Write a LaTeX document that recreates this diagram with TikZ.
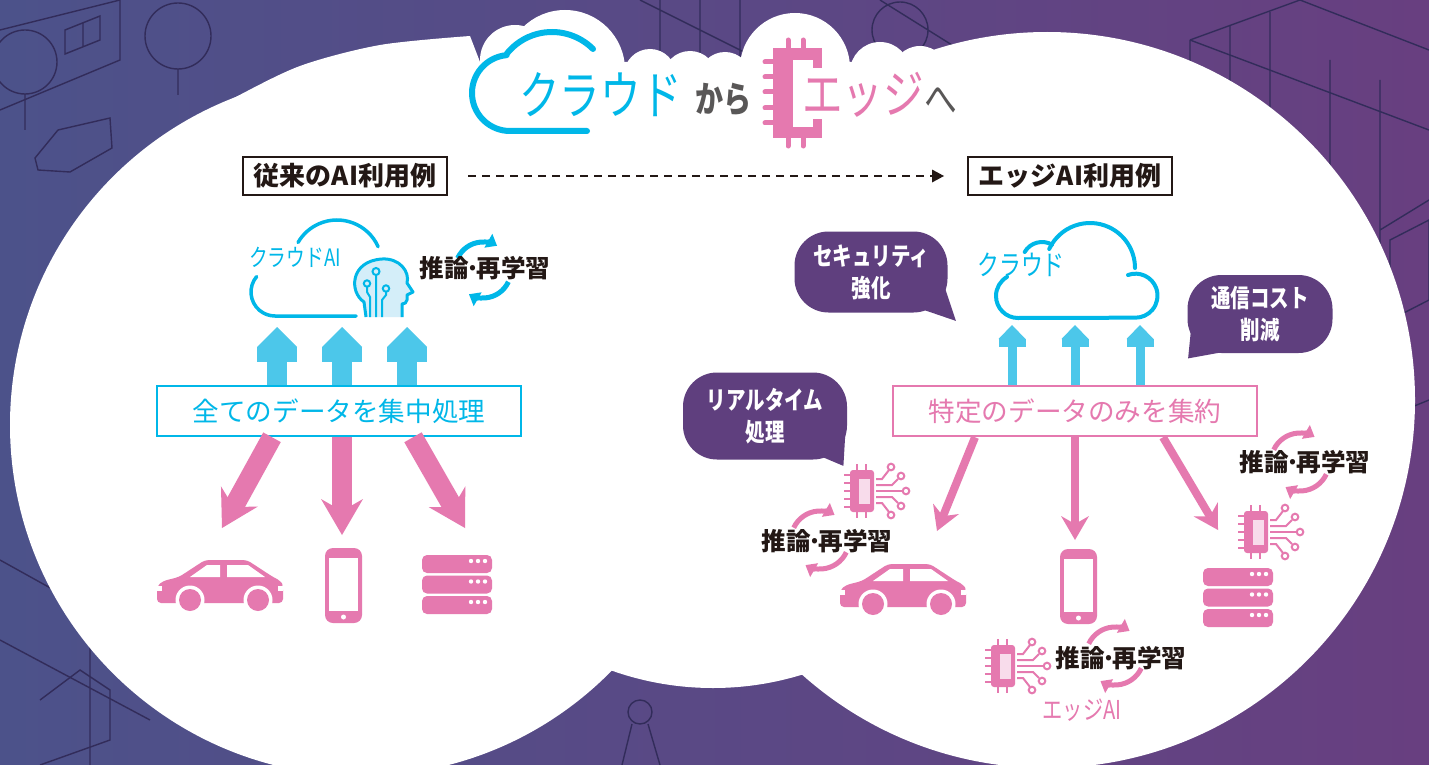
\documentclass[tikz,border=0pt]{standalone}
\usepackage{fontspec}
\setmainfont{Noto Sans CJK JP}
\newfontfamily\techfont[FakeStretch=0.78]{Noto Sans CJK JP}
\usetikzlibrary{arrows.meta,positioning}

\definecolor{cloudcyan}{RGB}{0,183,232}
\definecolor{flowcyan}{RGB}{76,199,234}
\definecolor{headfill}{RGB}{212,238,249}
\definecolor{edgepink}{RGB}{229,121,175}
\definecolor{chiplight}{RGB}{248,220,235}
\definecolor{bubblepurple}{RGB}{95,63,126}
\definecolor{inkblack}{RGB}{35,24,21}
\definecolor{inkgray}{RGB}{89,87,87}
\definecolor{bgleft}{RGB}{76,82,138}
\definecolor{bgright}{RGB}{104,63,128}
\definecolor{cityline}{RGB}{50,44,90}

% narrow middle dot between two words
\newcommand{\nakadot}{\makebox[0.32em][c]{·}}

\tikzset{
  % device icons, drawn in pixel units of the picture
  car/.pic={
    \fill[edgepink, rounded corners=2] (0,-7) -- (0,-24) -- (6,-29) -- (22,-33)
      -- (48,-50) -- (90,-50) -- (116,-33) -- (124,-29) -- (126,-24) -- (126,-7) -- cycle;
    \fill[white] (33,-33) -- (63,-33) -- (63,-45) -- (50,-45) -- cycle;
    \fill[white] (70,-33) -- (108,-33) -- (91,-45) -- (70,-45) -- cycle;
    \foreach \wx in {33,101} {
      \fill[white] (\wx,-10) circle[radius=14.5];
      \fill[edgepink] (\wx,-10) circle[radius=11];
    }
    \fill[white] (121,-24) rectangle (126,-19);
    \fill[white] (0,-24) rectangle (5,-19);
  },
  phone/.pic={
    \fill[edgepink, rounded corners=4] (0,0) rectangle (37,75);
    \fill[white] (4,10) rectangle (33,63);
    \fill[white] (18.5,69) circle[radius=2.5];
  },
  server/.pic={
    \foreach \k in {0,1,2} {
      \fill[edgepink, rounded corners=2.5] (0,20.5*\k) rectangle ++(70,18);
      \foreach \d in {49,56,63}
        \fill[white] (\d,20.5*\k+6) circle[radius=2.2];
    }
  },
  edgechip/.pic={
    \fill[edgepink, rounded corners=1.5] (-12,-21) rectangle (12,21);
    \fill[chiplight] (-3,-12) rectangle (8,13);
    \foreach \py in {-16,-8,0,8,16}
      \draw[edgepink, line width=1.3pt] (-18,\py) -- (-12,\py);
    \foreach \px in {-5,4} {
      \draw[edgepink, line width=1.3pt] (\px,-27) -- (\px,-21);
      \draw[edgepink, line width=1.3pt] (\px,21) -- (\px,27);
    }
    \begin{scope}[edgepink, line width=1pt]
      \draw (14,-12) -- (20,-12) -- (27,-21);
      \draw (29,-24) circle[radius=3.3];
      \draw (14,-6) -- (30,-6) -- (36,-12);
      \draw (39,-15) circle[radius=3.3];
      \draw (14,0) -- (40.7,0);
      \draw (44,0) circle[radius=3.3];
      \draw (14,6) -- (30,6) -- (36,12);
      \draw (39,15) circle[radius=3.3];
      \draw (14,12) -- (20,12) -- (27,21);
      \draw (29,24) circle[radius=3.3];
    \end{scope}
  }
}

\begin{document}
\begin{tikzpicture}[x=0.5pt,y=-0.5pt,
  labelbox/.style={draw=inkblack, line width=1pt, minimum width=102pt, minimum height=19pt,
    inner sep=0pt, text=inkblack, font=\fontsize{13pt}{15pt}\selectfont\bfseries},
  databox/.style={fill=white, line width=1.25pt, minimum width=182pt, minimum height=25pt,
    inner sep=0pt, font=\fontsize{13.3pt}{15pt}\selectfont},
  bubble/.style={fill=bubblepurple, rounded corners=17pt, inner sep=0pt, text=white,
    align=center, font=\fontsize{12.5pt}{16pt}\techfont\bfseries},
  infer/.style={text=inkblack, inner sep=0pt, font=\fontsize{12.3pt}{14pt}\selectfont\bfseries},
  techlabel/.style={inner sep=0pt, font=\fontsize{12pt}{14pt}\techfont},
  cycle cyan/.style={draw=cloudcyan, line width=2.5pt, -{Triangle[length=5pt,width=8pt,line width=0pt]}},
  cycle pink/.style={draw=edgepink, line width=2.5pt, -{Triangle[length=5pt,width=8pt,line width=0pt]}},
  upflow/.style={draw=flowcyan, line width=10pt,
    -{Rectangle[length=7.5pt,width=20pt,line width=0pt]Triangle[length=10pt,width=20pt,line width=0pt]}},
  upthin/.style={draw=flowcyan, line width=4.5pt,
    -{Rectangle[length=4pt,width=13.5pt,line width=0pt]Triangle[length=7pt,width=13.5pt,line width=0pt]}},
  downflow/.style={draw=edgepink, line width=10pt, -{Stealth[length=18pt,width=21pt,inset=6pt,line width=0pt]}},
  downthin/.style={draw=edgepink, line width=4pt, -{Stealth[length=12pt,width=14pt,inset=4pt,line width=0pt]}},
]

\useasboundingbox (0,0) rectangle (1429,765);
\shade[left color=bgleft, right color=bgright] (0,0) rectangle (1429,765);

% faint town drawing behind
\begin{scope}[cityline, line width=0.7pt]
  \draw (25,62) circle[radius=32] (25,94) -- (25,130);
  \draw (178,36) circle[radius=33] (178,69) -- (178,95);
  \draw (0,30) -- (120,0) (0,110) -- (120,60) -- (120,0);
  \draw (65,30) -- (100,16) -- (100,40) -- (65,54) -- cycle (83,23) -- (83,47);
  \draw (35,158) -- (58,130) -- (110,118) -- (112,148) -- (70,172) -- (38,170) -- cycle;
  \draw (1190,40) -- (1300,0) (1190,40) -- (1190,260) (1190,40) -- (1429,130);
  \draw (1230,26) -- (1230,240) (1270,12) -- (1270,220) (1300,0) -- (1429,50);
  \draw (1330,60) -- (1330,260) (1380,80) -- (1380,270) (1429,200) -- (1380,230);
  \draw (640,0) -- (760,60) (660,0) -- (660,60) (700,0) -- (700,60) (740,0) -- (740,60);
  \draw (880,0) -- (960,50) (900,30) circle[radius=28];
  \draw (0,560) -- (90,610) -- (90,765) (0,640) -- (150,720);
  \draw (40,700) -- (80,670) -- (110,690) -- (110,740) -- (40,765);
  \draw (1380,420) -- (1429,400) (1390,240) -- (1429,220) -- (1429,300) -- (1390,320) -- cycle;
  \draw (640,712) circle[radius=12] (632,724) -- (622,765) (648,724) -- (660,765);
\end{scope}

% white cloud-shaped panel
\fill[white] (361,425) circle[radius=351];
\fill[white] (1047,400) circle[radius=368];
\fill[white] (713,386) circle[radius=302];
\foreach \cx/\cy/\r in {515/60/35, 565/70/60, 650/75/26, 690/78/27, 725/78/26,
                        795/68/55, 880/72/30, 920/74/28}
  \fill[white] (\cx,\cy) circle[radius=\r];
\fill[white] plot[smooth] coordinates {(92,200) (160,138) (230,100) (300,66) (380,45) (470,36)}
  -- (480,62) -- (950,62) -- plot[smooth] coordinates {(950,58) (1000,42) (1047,33)}
  -- (1047,250) -- (92,250) -- cycle;

% title
\coordinate (titlecloud) at (552,90);
\coordinate (titlelobe) at (510,93);
\draw[cloudcyan, line width=3pt, line cap=round]
  ([shift={(-45:58)}]titlecloud) arc[start angle=-45, end angle=-141, radius=58];
\draw[cloudcyan, line width=3pt, line cap=round]
  ([shift={(-95:38)}]titlelobe) arc[start angle=-95, end angle=-270, radius=38] -- ++(77,0);
\node[anchor=west, inner sep=0pt, text=cloudcyan, font=\fontsize{26pt}{30pt}\techfont] (titlefrom) at (519,95) {クラウド};
\node[anchor=west, inner sep=0pt, text=inkgray, font=\fontsize{18pt}{20pt}\techfont\bfseries] (titlekara) at (695,100) {から};
% chip around the first letter
\fill[edgepink] (773,48) rectangle (822,138);
\fill[white] (793,60) rectangle (813,127);
\fill[white] (812,68) rectangle (823,119);
\foreach \px in {788,803} {
  \draw[edgepink, line width=2.5pt, line cap=round] (\px,40) -- (\px,48);
  \draw[edgepink, line width=2.5pt, line cap=round] (\px,138) -- (\px,146);
}
\foreach \py in {62,77,92,108,123}
  \draw[edgepink, line width=2.5pt, line cap=round] (765,\py) -- (773,\py);
\node[anchor=west, inner sep=0pt, text=edgepink, font=\fontsize{26pt}{30pt}\techfont] (titleto) at (802,95) {エッジ};
\node[anchor=west, inner sep=0pt, text=inkgray, font=\fontsize{21pt}{24pt}\techfont] (titlehe) at (924,101) {へ};

% the two cases
\node[labelbox] (oldcase) at (345,176) {従来のAI利用例};
\node[labelbox] (edgecase) at (1070,176) {エッジAI利用例};
\draw[inkblack, line width=1pt, dash pattern=on 4pt off 3pt,
  -{Triangle[length=6pt,width=6.5pt,line width=0pt]}, shorten <=10pt, shorten >=11.5pt]
  (oldcase) -- (edgecase);

% ---- cloud AI side ----
\coordinate (aicloud) at (337,265);
\coordinate (ailobe) at (275,292);
\draw[cloudcyan, line width=1.75pt, line cap=round]
  ([shift={(-24:45)}]aicloud) arc[start angle=-24, end angle=-150, radius=45];
\draw[cloudcyan, line width=1.75pt, line cap=round]
  ([shift={(-140:24)}]ailobe) arc[start angle=-140, end angle=-270, radius=24] -- (356,316);
\node[techlabel, text=cloudcyan] (cloudai) at (295,257) {クラウドAI};
% head with circuit
\filldraw[fill=headfill, draw=cloudcyan, line width=1.5pt, line join=round]
  (366,317) -- (364,302) .. controls (349,292) and (350,261) .. (382,259)
  .. controls (400,258) and (410,272) .. (407,283) -- (413,292) -- (407,295)
  -- (407,300) .. controls (407,303) and (404,304) .. (402,304) -- (402,317);
\begin{scope}[cloudcyan, line width=1pt]
  \draw (376,317) -- (376,275) (376,271.5) circle[radius=3.5];
  \draw (370,317) -- (370,297) -- (367,292) -- (367,287) (367,283.5) circle[radius=3.2];
  \draw (382,317) -- (382,300) -- (386,295) -- (386,292) (386,288.5) circle[radius=3.2];
\end{scope}
\coordinate (inferLc) at (483,270);
\draw[cycle cyan] ([shift={(-155:28)}]inferLc) arc[start angle=-155, end angle=-60, radius=28];
\draw[cycle cyan] ([shift={(25:28)}]inferLc) arc[start angle=25, end angle=120, radius=28];
\node[infer] (inferL) at (485,268) {推論\nakadot 再学習};

\node[databox, draw=cloudcyan, text=cloudcyan] (alldata) at (339,411) {全てのデータを集中処理};
\foreach \ax in {277,342,407}
  \draw[upflow] (alldata.north -| \ax,0) -- (\ax,327);

\pic at (157,610) {car};
\pic at (325,548) {phone};
\pic at (422,555) {server};
\coordinate (oldcar) at (222,528);
\coordinate (oldphone) at (342,535);
\coordinate (oldserver) at (465,528);
\draw[downflow] (alldata.south -| 272,0) -- (oldcar);
\draw[downflow] (alldata.south -| 342,0) -- (oldphone);
\draw[downflow] (alldata.south -| 413,0) -- (oldserver);

% ---- edge AI side ----
\coordinate (edgecloud) at (1090,268);
\draw[cloudcyan, line width=2pt, line cap=round]
  ([shift={(-155:45)}]edgecloud) arc[start angle=-155, end angle=0, radius=45];
\draw[cloudcyan, line width=2pt, line cap=round]
  (1128,275) arc[start angle=-110, end angle=90, radius=22] -- (1018,318)
  arc[start angle=90, end angle=240, radius=22];
\draw[cloudcyan, line width=2pt, line cap=round]
  (1024.7,252) arc[start angle=-150, end angle=-60, radius=20];
\node[techlabel, text=cloudcyan, font=\fontsize{14pt}{16pt}\techfont] (cloudonly) at (1021,265) {クラウド};

\node[bubble, minimum width=76.5pt, minimum height=40.5pt] (security) at (871,272) {セキュリティ\\強化};
\fill[bubblepurple] ([shift={(-30,-5)}]security.south east) -- ([shift={(-3,-25)}]security.south east)
  -- ([shift={(8,8)}]security.south east) -- cycle;
\node[bubble, minimum width=72.5pt, minimum height=39pt] (commcost) at (1260,314) {通信コスト\\削減};
\fill[bubblepurple] ([shift={(4,-25)}]commcost.south west) -- ([shift={(34,-1)}]commcost.south west)
  -- ([shift={(1,5)}]commcost.south west) -- cycle;
\node[bubble, minimum width=82pt, minimum height=43.5pt] (realtime) at (765,416) {リアルタイム\\処理};
\fill[bubblepurple] ([shift={(-30,-5)}]realtime.south east) -- ([shift={(-2,-28)}]realtime.south east)
  -- ([shift={(-4,6)}]realtime.south east) -- cycle;

\node[databox, draw=edgepink, text=edgepink] (somedata) at (1075,411) {特定のデータのみを集約};
\foreach \ax in {1012,1075,1140}
  \draw[upthin] (somedata.north -| \ax,0) -- (\ax,325);

\pic at (840,614) {car};
\pic at (1060,549) {phone};
\pic at (1203,568) {server};
\coordinate (edgecar) at (937,531);
\coordinate (edgephone) at (1075,540);
\coordinate (edgeserver) at (1218,530);
\draw[downthin] (somedata.south -| 975,0) -- (edgecar);
\draw[downthin] (somedata.south -| 1075,0) -- (edgephone);
\draw[downthin] (somedata.south -| 1163,0) -- (edgeserver);

\pic at (862,491) {edgechip};
\pic at (1256,532) {edgechip};
\pic at (1003,666) {edgechip};

\coordinate (inferCc) at (820,540);
\draw[cycle pink] ([shift={(-155:29)}]inferCc) arc[start angle=-155, end angle=-60, radius=29];
\draw[cycle pink] ([shift={(25:29)}]inferCc) arc[start angle=25, end angle=120, radius=29];
\node[infer] (inferCar) at (827,541) {推論\nakadot 再学習};

\coordinate (inferSc) at (1300,462);
\draw[cycle pink] ([shift={(-155:29)}]inferSc) arc[start angle=-155, end angle=-60, radius=29];
\draw[cycle pink] ([shift={(25:29)}]inferSc) arc[start angle=25, end angle=120, radius=29];
\node[infer] (inferSrv) at (1305,462) {推論\nakadot 再学習};

\coordinate (inferPc) at (1115,656);
\draw[cycle pink] ([shift={(-155:29)}]inferPc) arc[start angle=-155, end angle=-60, radius=29];
\draw[cycle pink] ([shift={(25:29)}]inferPc) arc[start angle=25, end angle=120, radius=29];
\node[infer] (inferPhone) at (1121,658) {推論\nakadot 再学習};

\node[techlabel, text=edgepink, font=\fontsize{13pt}{15pt}\techfont] (edgeai) at (1082,710) {エッジAI};

\end{tikzpicture}
\end{document}
